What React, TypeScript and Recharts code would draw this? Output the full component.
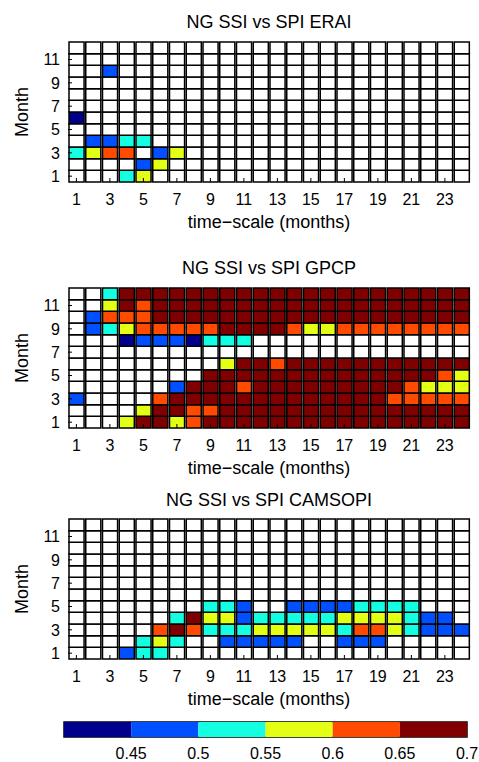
import React from 'react';
import { BarChart, Bar, XAxis, YAxis, Cell, ReferenceArea } from 'recharts';

const FONT = '"Liberation Sans", Arial, Helvetica, sans-serif';

// categories
const TIME_SCALES = [1, 2, 3, 4, 5, 6, 7, 8, 9, 10, 11, 12, 13, 14, 15, 16, 17, 18, 19, 20, 21, 22, 23, 24];
const MONTHS = [1, 2, 3, 4, 5, 6, 7, 8, 9, 10, 11, 12];
const MONTH_TICKS = [1, 3, 5, 7, 9, 11];

// colour bins of the correlation scale
const BIN_EDGES = [0.4, 0.45, 0.5, 0.55, 0.6, 0.65, 0.7];
const BIN_COLORS = ['#00008C', '#0050FF', '#14FFE2', '#E2FF14', '#FF4A00', '#800000'];
const COLORBAR_TICKS = [0.45, 0.5, 0.55, 0.6, 0.65, 0.7];

// correlation (bin mid values); '.' = not significant
// n=0.425 b=0.475 c=0.525 y=0.575 o=0.625 r=0.675
const CODE_VALUES: Record<string, number> = { n: 0.425, b: 0.475, c: 0.525, y: 0.575, o: 0.625, r: 0.675 };

// rows listed from month 12 (top) down to month 1 (bottom); columns are time-scales 1..24
const ERAI_ROWS = [
  '........................',
  '........................',
  '..b.....................',
  '........................',
  '........................',
  '........................',
  'n.......................',
  '........................',
  '.bbcc...................',
  'cyoo.by.................',
  '....by..................',
  '...cy...................',
];

const GPCP_ROWS = [
  '..crrrrrrrrrrrrrrrrrrrrr',
  '..yrorrrrrrrrrrrrrrrrrrr',
  '.booorrrrrrrrrrrrrrrrrrr',
  '.bcyooooorrrroyyoooooooo',
  '...nbbbnccc.............',
  '........................',
  '.........yrrorrrrrrrrrrr',
  '........rrrrrrrrrrrrrroy',
  '......brrrorrrrrrrrroyyy',
  'b....orrrrrrrrrrrrrooooo',
  '....yrroorrrrrrrrrrrrrrr',
  '...yrryorrrrrrrrrrrrrrrr',
];

const CAMSOPI_ROWS = [
  '........................',
  '........................',
  '........................',
  '........................',
  '........................',
  '........................',
  '........................',
  '........ccb..bbbbcccc...',
  '......cryybcccccyyyycbb.',
  '.....orocccyyyyycooycbbb',
  '....cyc..bbbbb..bbb.....',
  '...bcc..................',
];

function valueAt(rows: string[], month: number, ts: number): number | null {
  const row = rows[12 - month];
  const ch = row ? row[ts - 1] : '.';
  return ch && CODE_VALUES[ch] !== undefined ? CODE_VALUES[ch] : null;
}

function colorOf(v: number | null): string {
  if (v === null) return '#FFFFFF';
  for (let i = 0; i < BIN_COLORS.length; i++) {
    if (v >= BIN_EDGES[i] && v < BIN_EDGES[i + 1]) return BIN_COLORS[i];
  }
  return '#FFFFFF';
}

// one unit-high stacked segment per month for every time-scale
const CELL_ROWS = TIME_SCALES.map((ts) => {
  const r: Record<string, number> = { ts };
  MONTHS.forEach((m) => {
    r['m' + m] = 1;
  });
  return r;
});

const CHART_W = 479;
const PLOT_LEFT = 68;
const PLOT_RIGHT = 470;
const PLOT_H = 140;
const MARGIN_TOP = 10;
const XAXIS_H = 50;

const tickStyle = { fontSize: 16, fill: '#000', fontFamily: FONT };

function Panel({ title, rows, plotTop, titleY }: { title: string; rows: string[]; plotTop: number; titleY: number }) {
  const h = MARGIN_TOP + PLOT_H + XAXIS_H;
  const barW = (PLOT_RIGHT - PLOT_LEFT) / TIME_SCALES.length;
  return (
    <>
      <div
        style={{
          position: 'absolute',
          left: PLOT_LEFT,
          width: PLOT_RIGHT - PLOT_LEFT,
          top: titleY - 11,
          height: 22,
          lineHeight: '22px',
          textAlign: 'center',
          fontFamily: FONT,
          fontSize: 18,
          color: '#000',
          whiteSpace: 'nowrap',
        }}
      >
        {title}
      </div>
      <div style={{ position: 'absolute', left: 0, top: plotTop - MARGIN_TOP, width: CHART_W, height: h }}>
        <BarChart
          width={CHART_W}
          height={h}
          data={CELL_ROWS}
          margin={{ top: MARGIN_TOP, right: CHART_W - PLOT_RIGHT, bottom: 0, left: 0 }}
          barCategoryGap={0}
          barGap={0}
        >
          <XAxis
            dataKey="ts"
            interval={1}
            height={XAXIS_H}
            axisLine={false}
            tickLine={{ stroke: '#000', strokeWidth: 1 }}
            tickSize={-4}
            tickMargin={16}
            tick={tickStyle}
            label={{
              content: (p: any) => {
                const vb = p.viewBox || { x: PLOT_LEFT, y: plotTop + PLOT_H, width: PLOT_RIGHT - PLOT_LEFT };
                return (
                  <text
                    x={vb.x + vb.width / 2}
                    y={vb.y + 40}
                    textAnchor="middle"
                    dominantBaseline="central"
                    fontFamily={FONT}
                    fontSize={18}
                    fill="#000"
                  >
                    time−scale (months)
                  </text>
                );
              },
            }}
          />
          <XAxis
            xAxisId="top"
            dataKey="ts"
            orientation="top"
            interval={1}
            height={0}
            axisLine={false}
            tick={false}
            tickLine={{ stroke: '#000', strokeWidth: 1 }}
            tickSize={-4}
          />
          <YAxis
            type="number"
            domain={[0, 12]}
            ticks={MONTH_TICKS.map((m) => m - 0.5)}
            tickFormatter={(v: number) => String(v + 0.5)}
            width={PLOT_LEFT}
            axisLine={false}
            tickLine={{ stroke: '#000', strokeWidth: 1 }}
            tickSize={-4}
            tickMargin={12}
            tick={tickStyle}
            label={{
              content: (p: any) => {
                const vb = p.viewBox || { y: plotTop, height: PLOT_H };
                const cx = 22;
                const cy = vb.y + vb.height / 2;
                return (
                  <text
                    x={cx}
                    y={cy}
                    transform={`rotate(-90 ${cx} ${cy})`}
                    textAnchor="middle"
                    dominantBaseline="central"
                    fontFamily={FONT}
                    fontSize={18}
                    fill="#000"
                  >
                    Month
                  </text>
                );
              },
            }}
          />
          <YAxis
            yAxisId="right"
            orientation="right"
            type="number"
            domain={[0, 12]}
            ticks={MONTH_TICKS.map((m) => m - 0.5)}
            width={0}
            axisLine={false}
            tick={false}
            tickLine={{ stroke: '#000', strokeWidth: 1 }}
            tickSize={-4}
          />
          {MONTHS.map((m) => (
            <Bar
              key={m}
              dataKey={'m' + m}
              stackId="cells"
              barSize={barW}
              stroke="#000"
              strokeWidth={1.5}
              isAnimationActive={false}
            >
              {TIME_SCALES.map((ts) => (
                <Cell key={ts} fill={colorOf(valueAt(rows, m, ts))} />
              ))}
            </Bar>
          ))}
        </BarChart>
      </div>
    </>
  );
}

const COLORBAR_ROW: Record<string, number | string> = { name: 'scale', base: BIN_EDGES[0] };
BIN_COLORS.forEach((_, i) => {
  COLORBAR_ROW['b' + i] = BIN_EDGES[i + 1] - BIN_EDGES[i];
});

function ColorBar() {
  const top = 722;
  const mTop = 5;
  const h = 45;
  return (
    <div style={{ position: 'absolute', left: 0, top: top - mTop, width: CHART_W, height: h }}>
      <BarChart
        layout="vertical"
        width={CHART_W}
        height={h}
        data={[COLORBAR_ROW]}
        margin={{ top: mTop, right: 12, bottom: 0, left: 64 }}
        barCategoryGap={0}
      >
        <XAxis
          type="number"
          domain={[BIN_EDGES[0], BIN_EDGES[BIN_EDGES.length - 1]]}
          allowDataOverflow
          ticks={COLORBAR_TICKS}
          tickFormatter={(v: number) => String(Math.round(v * 100) / 100)}
          axisLine={false}
          tickLine={false}
          tickSize={5}
          tickMargin={6}
          height={25}
          tick={tickStyle}
        />
        <YAxis type="category" dataKey="name" hide />
        <Bar dataKey="base" stackId="cb" fill="none" isAnimationActive={false} />
        {BIN_COLORS.map((c, i) => (
          <Bar key={i} dataKey={'b' + i} stackId="cb" fill={c} isAnimationActive={false} />
        ))}
        <ReferenceArea
          x1={BIN_EDGES[0]}
          x2={BIN_EDGES[BIN_EDGES.length - 1]}
          fill="none"
          stroke="#000"
          strokeWidth={1.5}
          ifOverflow="visible"
        />
      </BarChart>
    </div>
  );
}

export default function App() {
  return (
    <div style={{ position: 'absolute', left: 0, top: 0, width: 479, height: 762, background: '#fff' }}>
      <Panel title="NG SSI vs SPI ERAI" rows={ERAI_ROWS} plotTop={42} titleY={22} />
      <Panel title="NG SSI vs SPI GPCP" rows={GPCP_ROWS} plotTop={288} titleY={268} />
      <Panel title="NG SSI vs SPI CAMSOPI" rows={CAMSOPI_ROWS} plotTop={519} titleY={500} />
      <ColorBar />
    </div>
  );
}
